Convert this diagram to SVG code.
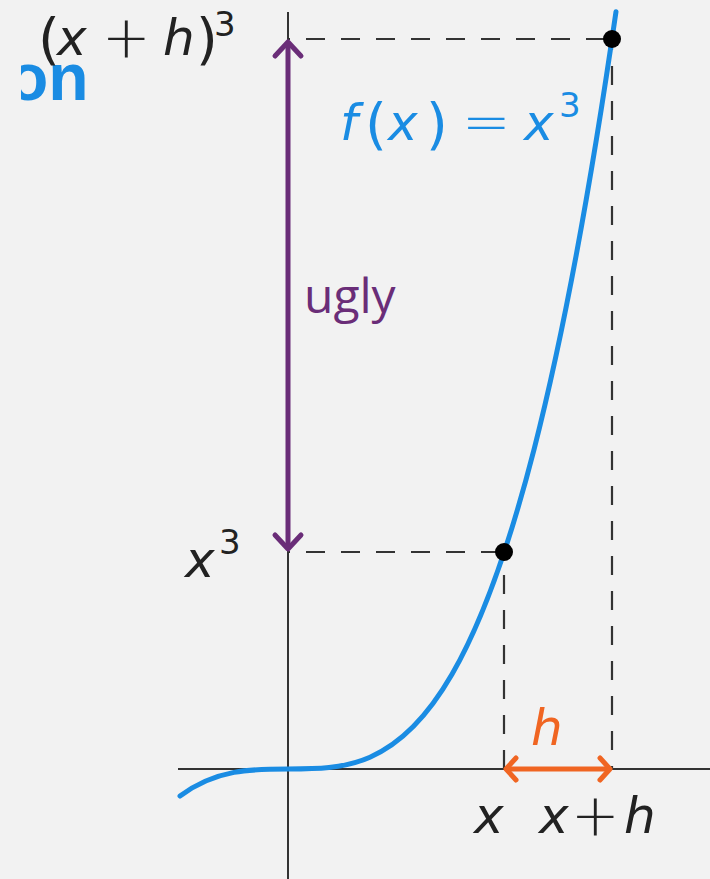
<svg xmlns="http://www.w3.org/2000/svg" width="710" height="879" viewBox="0 0 710 879">
<style>
.axis{stroke:#333;stroke-width:2;fill:none}
.dash{stroke:#333;stroke-width:2.2;stroke-dasharray:19 16;fill:none}
.curve{stroke:#1a8ce3;stroke-width:5;fill:none;stroke-linecap:round}
.m{font-family:"DejaVu Sans","Noto Sans",sans-serif;font-size:50px;fill:#222}
.i{font-style:italic}
.p{font-size:56px}
.op{font-size:58px;font-weight:300}
.sup{font-size:34px}
.blue{fill:#1a8ce3}
.purple{fill:#6a2d78}
.orange{fill:#f06522}
</style>
<defs>
<marker id="chevP" markerUnits="userSpaceOnUse" markerWidth="34" markerHeight="34" viewBox="0 0 34 34" refX="26" refY="17" orient="auto-start-reverse" overflow="visible">
<path d="M12,4 L26,17 L12,30" fill="none" stroke="#6a2d78" stroke-width="5" stroke-linecap="round" stroke-linejoin="round"/>
</marker>
<marker id="chevO" markerUnits="userSpaceOnUse" markerWidth="34" markerHeight="34" viewBox="0 0 34 34" refX="26" refY="17" orient="auto-start-reverse" overflow="visible">
<path d="M16,6 L26,17 L16,28" fill="none" stroke="#f06522" stroke-width="5" stroke-linecap="round" stroke-linejoin="round"/>
</marker>
<clipPath id="clipOn"><rect x="21" y="62" width="200" height="58"/></clipPath>
</defs>
<rect width="710" height="879" fill="#f2f2f2"/>
<text x="8" y="100" clip-path="url(#clipOn)" style="font-family:'Liberation Sans',Arial,sans-serif;font-weight:bold;font-size:66px;fill:#1a8ce3">on</text>
<g id="axes">
<line class="axis" x1="288" y1="12" x2="288" y2="879"/>
<line class="axis" x1="178" y1="769" x2="710" y2="769"/>
</g>
<g id="connectors">
<line class="dash" x1="288" y1="39" x2="612" y2="39" stroke-dashoffset="17"/>
<line class="dash" x1="288" y1="552" x2="504" y2="552" stroke-dashoffset="17"/>
<line class="dash" x1="504" y1="552" x2="504" y2="769" stroke-dashoffset="12"/>
<line class="dash" x1="612" y1="39" x2="612" y2="769" stroke-dashoffset="8"/>
<line id="ugly-arrow" x1="288" y1="42" x2="288" y2="549" stroke="#6a2d78" stroke-width="5" marker-start="url(#chevP)" marker-end="url(#chevP)"/>
<line id="h-arrow" x1="506" y1="769" x2="610" y2="769" stroke="#f06522" stroke-width="5" marker-start="url(#chevO)" marker-end="url(#chevO)"/>
</g>
<g id="curve">
<path class="curve" d="M180,796.03 C325.33,686.9 470.67,1018.35 616,11.73"/>
</g>
<g id="point-x"><circle cx="504" cy="552" r="9" fill="#000"/></g>
<g id="point-xh"><circle cx="612" cy="39" r="9" fill="#000"/></g>
<g id="labels">
<text class="m"><tspan class="p" x="38" y="58">(</tspan><tspan class="i" x="57" y="55">x</tspan><tspan class="op" x="102" y="57">+</tspan><tspan class="i" x="163" y="55">h</tspan><tspan class="p" x="196" y="58">)</tspan><tspan class="sup" x="214" y="36">3</tspan></text>
<text class="m blue"><tspan class="i" x="340" y="140">f</tspan><tspan class="p" x="365" y="143">(</tspan><tspan class="i" x="388" y="140">x</tspan><tspan class="p" x="426" y="143">)</tspan><tspan class="op" x="462" y="142">=</tspan><tspan class="i" x="524" y="140">x</tspan><tspan class="sup" x="559" y="117">3</tspan></text>
<text x="304" y="313" style="font-family:'Open Sans','Noto Sans',sans-serif;font-size:48px;fill:#6a2d78">ugly</text>
<text class="m"><tspan class="i" x="185" y="577">x</tspan><tspan class="sup" x="219" y="554">3</tspan></text>
<text class="m orange i" x="531" y="745">h</text>
<text class="m i" x="474" y="833">x</text>
<text class="m"><tspan class="i" x="539" y="833">x</tspan><tspan class="op" x="571" y="835">+</tspan><tspan class="i" x="624" y="833">h</tspan></text>
</g>
</svg>
